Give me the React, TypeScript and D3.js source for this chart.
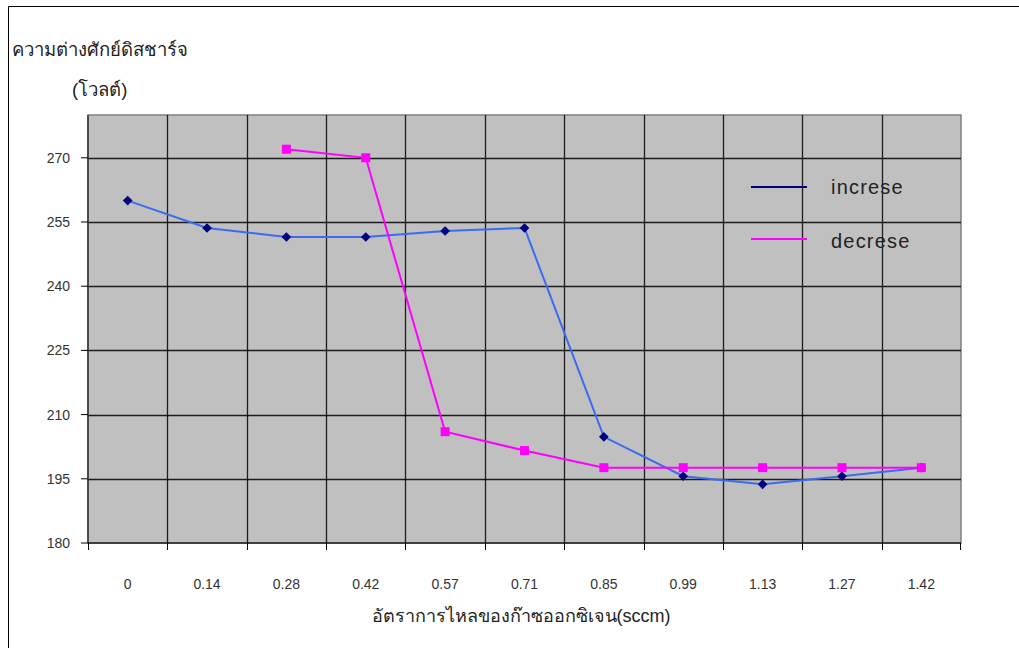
import React from "react";
import * as d3 from "d3";

const flowRates = ["0", "0.14", "0.28", "0.42", "0.57", "0.71", "0.85", "0.99", "1.13", "1.27", "1.42"];
const increaseVolts: (number | null)[] = [260, 253.6, 251.5, 251.5, 252.9, 253.6, 204.8, 195.6, 193.7, 195.6, 197.6];
const decreaseVolts: (number | null)[] = [null, null, 272, 270, 206, 201.6, 197.6, 197.6, 197.6, 197.6, 197.6];
const yTicks = [180, 195, 210, 225, 240, 255, 270];

const W = 1019;
const H = 648;
const plot = { left: 88, right: 961, top: 115, bottom: 543 };

export default function App() {
  const x = d3.scaleBand<string>().domain(flowRates).range([plot.left, plot.right]);
  const y = d3.scaleLinear().domain([180, 280]).range([plot.bottom, plot.top]);
  const cx = (c: string) => (x(c) as number) + x.bandwidth() / 2;

  const line = d3
    .line<[string, number | null]>()
    .defined((d) => d[1] !== null)
    .x((d) => cx(d[0]))
    .y((d) => y(d[1] as number));

  const incPts = flowRates.map((c, i) => [c, increaseVolts[i]] as [string, number | null]);
  const decPts = flowRates.map((c, i) => [c, decreaseVolts[i]] as [string, number | null]);

  const font = "'Liberation Sans', Arial, sans-serif";

  return (
    <svg
      width={W}
      height={H}
      style={{ position: "absolute", left: 0, top: 0, background: "#fff" }}
      fontFamily={font}
    >
      {/* outer chart frame */}
      <path d={`M8.5,${H} V6.5 H${W}`} fill="none" stroke="#000" strokeWidth={1} />

      {/* plot area */}
      <rect
        x={plot.left}
        y={plot.top}
        width={plot.right - plot.left}
        height={plot.bottom - plot.top}
        fill="#c0c0c0"
        stroke="#808080"
        strokeWidth={1.5}
      />

      {/* horizontal gridlines */}
      {yTicks.slice(1).map((t) => (
        <line
          key={"h" + t}
          x1={plot.left}
          x2={plot.right}
          y1={Math.round(y(t)) + 0.5}
          y2={Math.round(y(t)) + 0.5}
          stroke="#000"
          strokeOpacity={0.85}
          strokeWidth={1.3}
        />
      ))}

      {/* vertical gridlines at category boundaries */}
      {flowRates.slice(1).map((c) => (
        <line
          key={"v" + c}
          x1={Math.round(x(c) as number) + 0.5}
          x2={Math.round(x(c) as number) + 0.5}
          y1={plot.top}
          y2={plot.bottom}
          stroke="#000"
          strokeOpacity={0.85}
          strokeWidth={1.3}
        />
      ))}

      {/* axes */}
      <line x1={plot.left} x2={plot.left} y1={plot.top} y2={plot.bottom} stroke="#333" strokeWidth={1.5} />
      <line x1={plot.left} x2={plot.right} y1={plot.bottom} y2={plot.bottom} stroke="#222" strokeWidth={1.5} />

      {/* y ticks and labels */}
      {yTicks.map((t) => (
        <g key={"yt" + t}>
          <line x1={81} x2={plot.left} y1={y(t)} y2={y(t)} stroke="#000" strokeWidth={1} />
          <text x={70} y={y(t) + 5} textAnchor="end" fontSize={14} fill="#333">
            {t}
          </text>
        </g>
      ))}

      {/* x ticks and labels */}
      {flowRates.map((c) => (
        <line
          key={"xt" + c}
          x1={Math.round(x(c) as number) + 0.5}
          x2={Math.round(x(c) as number) + 0.5}
          y1={plot.bottom}
          y2={plot.bottom + 7}
          stroke="#000"
          strokeWidth={1}
        />
      ))}
      <line x1={plot.right - 0.5} x2={plot.right - 0.5} y1={plot.bottom} y2={plot.bottom + 7} stroke="#000" />
      {flowRates.map((c) => (
        <text key={"xl" + c} x={cx(c)} y={589} textAnchor="middle" fontSize={14} fill="#333">
          {c}
        </text>
      ))}

      {/* series lines */}
      <path d={line(incPts) ?? ""} fill="none" stroke="#3A6CF2" strokeWidth={2} />
      <path d={line(decPts) ?? ""} fill="none" stroke="#FF00FF" strokeWidth={2} />

      {/* markers */}
      {incPts
        .filter((d) => d[1] !== null)
        .map((d) => (
          <path
            key={"im" + d[0]}
            d={d3.symbol(d3.symbolDiamond2, 60)() ?? ""}
            transform={`translate(${cx(d[0])},${y(d[1] as number)})`}
            fill="#000080"
          />
        ))}
      {decPts
        .filter((d) => d[1] !== null)
        .map((d) => (
          <rect
            key={"dm" + d[0]}
            x={cx(d[0]) - 4.5}
            y={y(d[1] as number) - 4.5}
            width={9}
            height={9}
            fill="#FF00FF"
          />
        ))}

      {/* legend */}
      <line x1={751} x2={807} y1={187} y2={187} stroke="#000080" strokeWidth={2} />
      <text x={831} y={194} fontSize={20} letterSpacing={1.2} fill="#222">
        increse
      </text>
      <line x1={751} x2={807} y1={239} y2={239} stroke="#FF00FF" strokeWidth={2} />
      <text x={831} y={248} fontSize={20} letterSpacing={1.2} fill="#222">
        decrese
      </text>

      {/* axis titles */}
      <text x={12} y={56} fontSize={18.5} fill="#222">
        ความต่างศักย์ดิสชาร์จ
      </text>
      <text x={72} y={96} fontSize={18.5} fill="#222">
        (โวลต์)
      </text>
      <text x={521} y={622} textAnchor="middle" fontSize={18} fill="#222">
        อัตราการไหลของก๊าซออกซิเจน(sccm)
      </text>
    </svg>
  );
}
